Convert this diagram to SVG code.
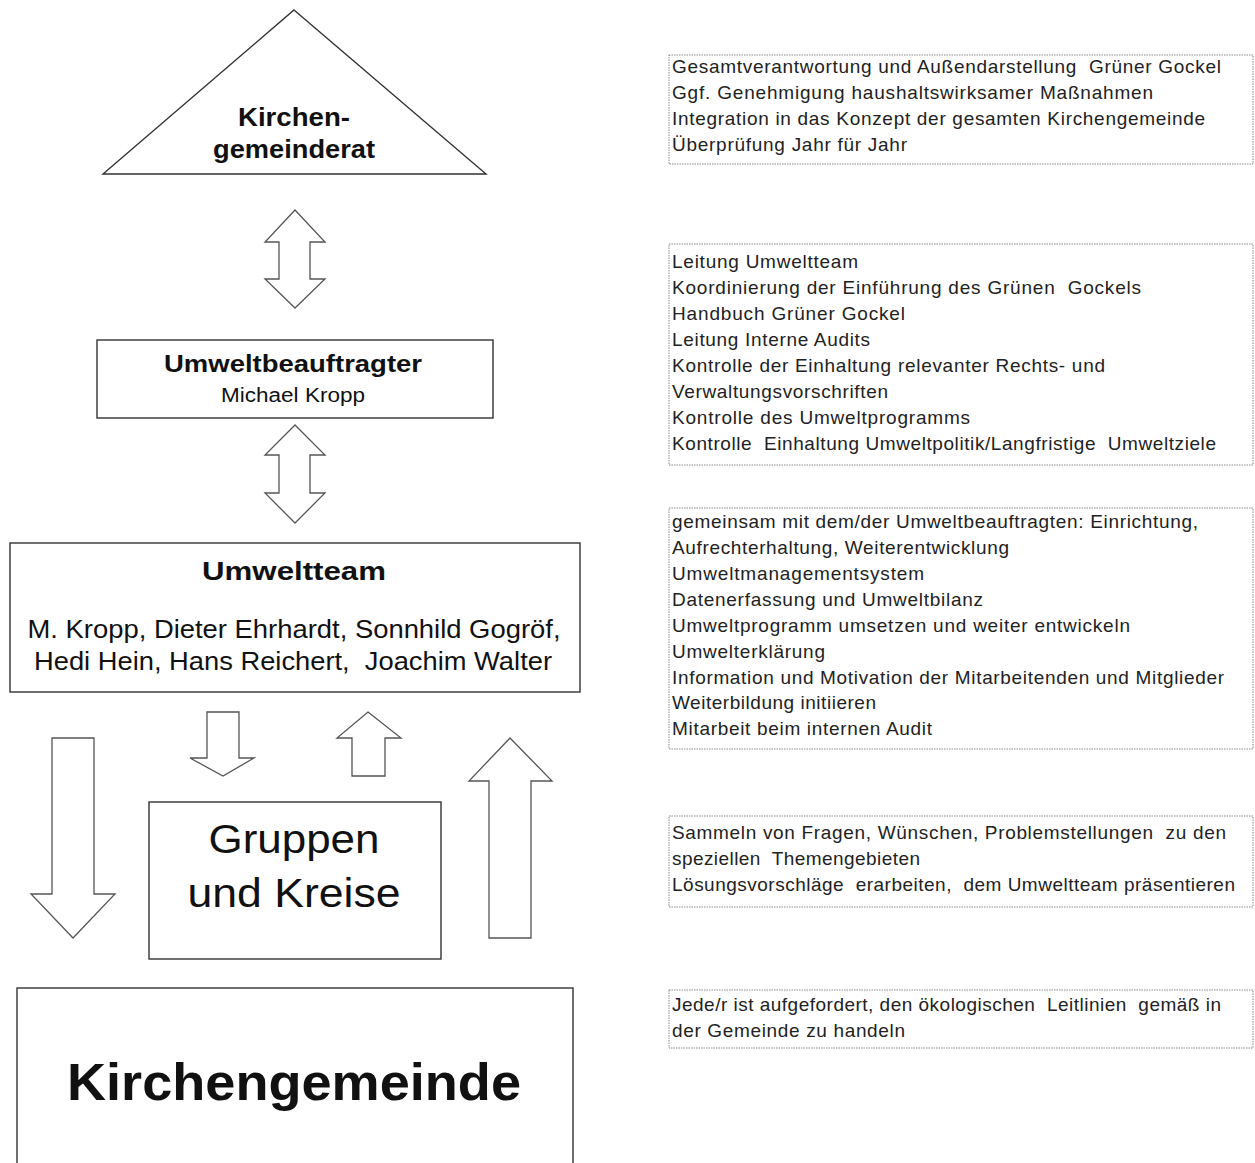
<svg xmlns="http://www.w3.org/2000/svg" width="1255" height="1163" viewBox="0 0 1255 1163">
<style>
.node{fill:#fff;stroke:#333;stroke-width:1.4}
.arr{fill:#fff;stroke:#555;stroke-width:1.3;stroke-linejoin:miter}
.info{fill:#fff;stroke:#888;stroke-width:1;stroke-dasharray:1.5 1}
.t{font-family:"Liberation Sans",Arial,sans-serif;fill:#111}
.b{font-weight:bold;text-anchor:middle}
.c{text-anchor:middle}
.s{font-family:"Liberation Sans",Arial,sans-serif;font-size:19px;fill:#222}
</style>
<rect width="1255" height="1163" fill="#fff"/>
<g id="kgr">
<polygon class="node" points="294,10 486,174 103,174"/>
<text class="t b" x="294" y="126" font-size="26" textLength="112" lengthAdjust="spacingAndGlyphs">Kirchen-</text>
<text class="t b" x="294" y="158" font-size="26" textLength="162" lengthAdjust="spacingAndGlyphs">gemeinderat</text>
</g>
<g id="ub">
<rect class="node" x="97" y="340" width="396" height="78"/>
<text class="t b" x="293" y="372" font-size="24" textLength="258" lengthAdjust="spacingAndGlyphs">Umweltbeauftragter</text>
<text class="t c" x="293" y="402" font-size="20" fill="#333" textLength="144" lengthAdjust="spacingAndGlyphs">Michael Kropp</text>
</g>
<g id="ut">
<rect class="node" x="10" y="543" width="570" height="149"/>
<text class="t b" x="294" y="580" font-size="26" textLength="184" lengthAdjust="spacingAndGlyphs">Umweltteam</text>
<text class="t c" x="294" y="638" font-size="25" textLength="533" lengthAdjust="spacingAndGlyphs">M. Kropp, Dieter Ehrhardt, Sonnhild Gogröf,</text>
<text class="t c" x="293" y="670" font-size="25" textLength="518" lengthAdjust="spacingAndGlyphs" xml:space="preserve">Hedi Hein, Hans Reichert,  Joachim Walter</text>
</g>
<g id="gk">
<rect class="node" x="149" y="802" width="292" height="157"/>
<text class="t c" x="294" y="853" font-size="40" textLength="171" lengthAdjust="spacingAndGlyphs">Gruppen</text>
<text class="t c" x="294" y="907" font-size="40" textLength="213" lengthAdjust="spacingAndGlyphs">und Kreise</text>
</g>
<g id="kg">
<rect class="node" x="17" y="988" width="556" height="190"/>
<text class="t b" x="294" y="1100" font-size="52" textLength="454" lengthAdjust="spacingAndGlyphs">Kirchengemeinde</text>
</g>
<g id="connectors">
<polygon class="arr" points="295,210 325,242 310,242 310,279 325,279 295,308 265,279 279,279 279,242 265,242"/>
<polygon class="arr" points="295,425 325,455 310,455 310,493 325,493 295,523 265,493 279,493 279,455 265,455"/>
<polygon class="arr" points="207,712 239,712 239,758 254,758 223,776 190,758 207,758"/>
<polygon class="arr" points="368,712 401,738 385,738 385,776 352,776 352,738 337,738"/>
<polygon class="arr" points="52,738 94,738 94,894 115,894 73,938 31,894 52,894"/>
<polygon class="arr" points="510,738 552,781 531,781 531,938 489,938 489,781 469,781"/>
</g>
<g id="info1">
<rect class="info" x="669" y="55" width="584" height="109"/>
<text class="s" x="672" y="73" textLength="549" lengthAdjust="spacing" xml:space="preserve">Gesamtverantwortung und Außendarstellung  Grüner Gockel</text>
<text class="s" x="672" y="99" textLength="481" lengthAdjust="spacing">Ggf. Genehmigung haushaltswirksamer Maßnahmen</text>
<text class="s" x="672" y="125" textLength="533" lengthAdjust="spacing">Integration in das Konzept der gesamten Kirchengemeinde</text>
<text class="s" x="672" y="151" textLength="235" lengthAdjust="spacing">Überprüfung Jahr für Jahr</text>
</g>
<g id="info2">
<rect class="info" x="669" y="244" width="584" height="221"/>
<text class="s" x="672" y="268" textLength="186" lengthAdjust="spacing">Leitung Umweltteam</text>
<text class="s" x="672" y="294" textLength="469" lengthAdjust="spacing" xml:space="preserve">Koordinierung der Einführung des Grünen  Gockels</text>
<text class="s" x="672" y="320" textLength="233" lengthAdjust="spacing">Handbuch Grüner Gockel</text>
<text class="s" x="672" y="346" textLength="198" lengthAdjust="spacing">Leitung Interne Audits</text>
<text class="s" x="672" y="372" textLength="433" lengthAdjust="spacing">Kontrolle der Einhaltung relevanter Rechts- und</text>
<text class="s" x="672" y="398" textLength="216" lengthAdjust="spacing">Verwaltungsvorschriften</text>
<text class="s" x="672" y="424" textLength="298" lengthAdjust="spacing">Kontrolle des Umweltprogramms</text>
<text class="s" x="672" y="450" textLength="544" lengthAdjust="spacing" xml:space="preserve">Kontrolle  Einhaltung Umweltpolitik/Langfristige  Umweltziele</text>
</g>
<g id="info3">
<rect class="info" x="669" y="508" width="584" height="241"/>
<text class="s" x="672" y="528" textLength="526" lengthAdjust="spacing">gemeinsam mit dem/der Umweltbeauftragten: Einrichtung,</text>
<text class="s" x="672" y="554" textLength="337" lengthAdjust="spacing">Aufrechterhaltung, Weiterentwicklung</text>
<text class="s" x="672" y="580" textLength="252" lengthAdjust="spacing">Umweltmanagementsystem</text>
<text class="s" x="672" y="606" textLength="311" lengthAdjust="spacing">Datenerfassung und Umweltbilanz</text>
<text class="s" x="672" y="632" textLength="458" lengthAdjust="spacing">Umweltprogramm umsetzen und weiter entwickeln</text>
<text class="s" x="672" y="658" textLength="153" lengthAdjust="spacing">Umwelterklärung</text>
<text class="s" x="672" y="684" textLength="552" lengthAdjust="spacing">Information und Motivation der Mitarbeitenden und Mitglieder</text>
<text class="s" x="672" y="709" textLength="204" lengthAdjust="spacing">Weiterbildung initiieren</text>
<text class="s" x="672" y="735" textLength="260" lengthAdjust="spacing">Mitarbeit beim internen Audit</text>
</g>
<g id="info4">
<rect class="info" x="669" y="816" width="584" height="91"/>
<text class="s" x="672" y="839" textLength="554" lengthAdjust="spacing" xml:space="preserve">Sammeln von Fragen, Wünschen, Problemstellungen  zu den</text>
<text class="s" x="672" y="865" textLength="248" lengthAdjust="spacing" xml:space="preserve">speziellen  Themengebieten</text>
<text class="s" x="672" y="891" textLength="563" lengthAdjust="spacing" xml:space="preserve">Lösungsvorschläge  erarbeiten,  dem Umweltteam präsentieren</text>
</g>
<g id="info5">
<rect class="info" x="669" y="990" width="584" height="58"/>
<text class="s" x="672" y="1011" textLength="549" lengthAdjust="spacing" xml:space="preserve">Jede/r ist aufgefordert, den ökologischen  Leitlinien  gemäß in</text>
<text class="s" x="672" y="1037" textLength="233" lengthAdjust="spacing">der Gemeinde zu handeln</text>
</g>
</svg>
